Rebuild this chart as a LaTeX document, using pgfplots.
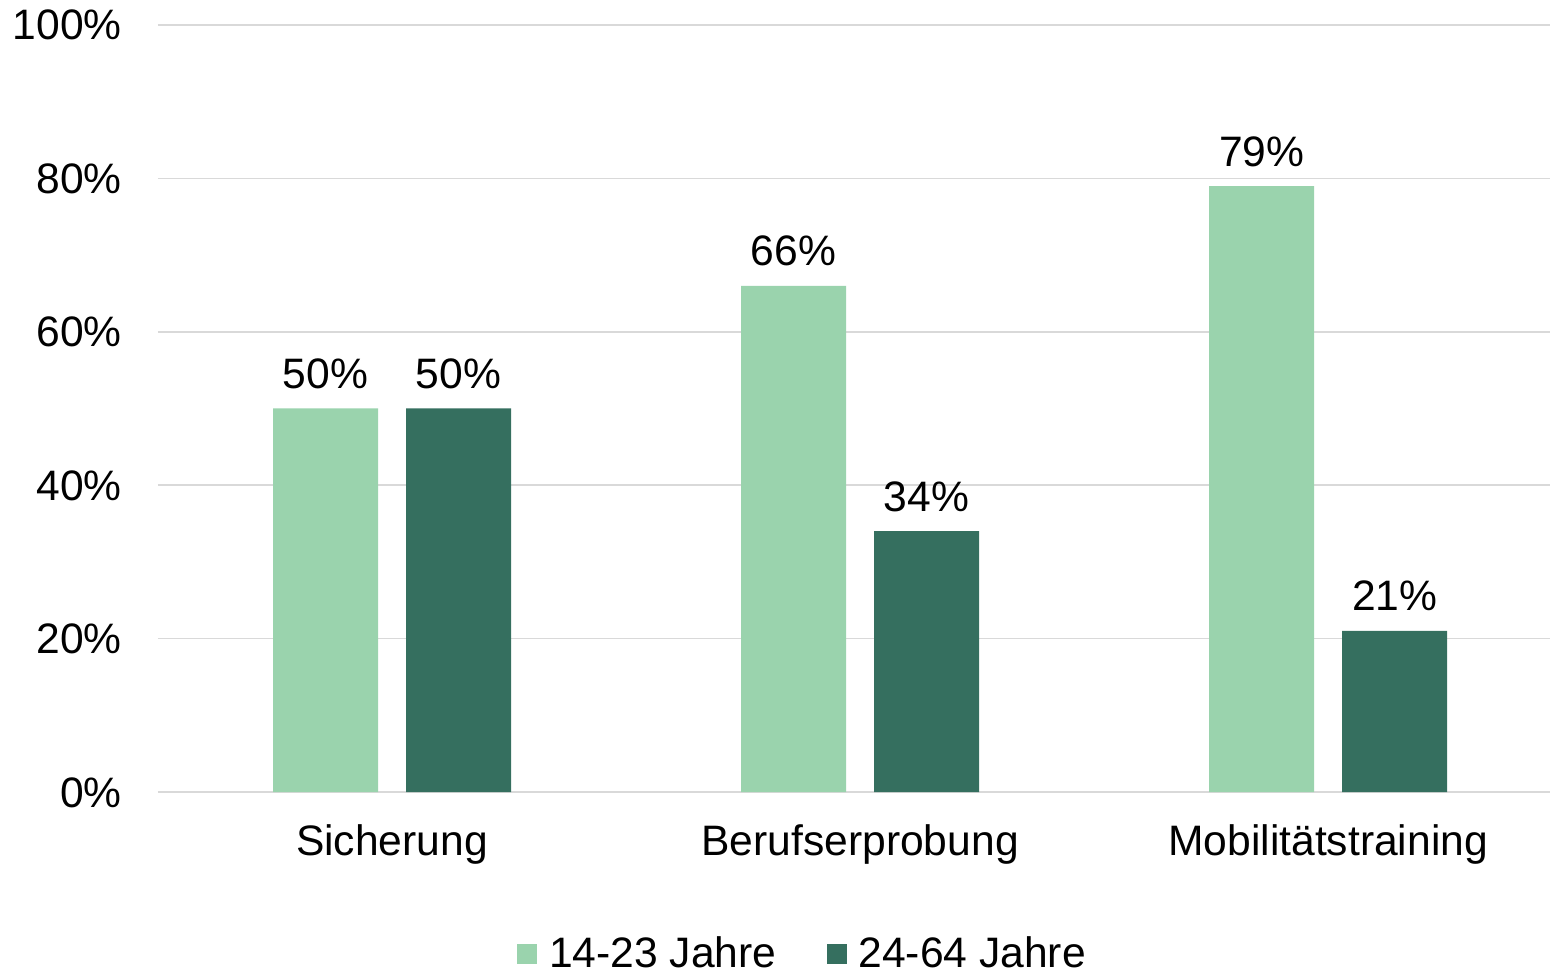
\documentclass[border=0pt]{standalone}
\usepackage{pgfplots}
\pgfplotsset{compat=1.18}
\usepackage{fontspec}
\setmainfont{Liberation Sans}
\definecolor{jung}{HTML}{9AD3AD}
\definecolor{alt}{HTML}{356F5F}
\definecolor{gitter}{HTML}{D9D9D9}

\begin{document}
\begin{tikzpicture}
\begin{axis}[
  at={(0,0)}, anchor=south west,
  scale only axis, width=696pt, height=383.5pt,
  ybar, bar width=52.5pt,
  xmin=-0.5, xmax=2.474, ymin=0, ymax=100,
  xtick={0,1,2},
  xticklabels={Sicherung, Berufserprobung, Mobilitätstraining},
  ytick={0,20,40,60,80,100},
  yticklabel={\pgfmathprintnumber{\tick}\%},
  /pgf/number format/assume math mode=true,
  font=\fontsize{21.3}{25}\selectfont,
  axis line style={draw=none},
  major tick length=0pt,
  ymajorgrids, grid style={gitter, line width=0.75pt},
  yticklabel style={anchor=base east, inner sep=0pt, xshift=-18pt, yshift=-7.5pt},
  xticklabel style={anchor=base, inner sep=0pt, yshift=-31.5pt},
  nodes near coords={\pgfmathprintnumber{\pgfplotspointmeta}\%},
  nodes near coords style={anchor=base, inner sep=0pt, yshift=10pt, black},
  legend columns=2,
  legend style={draw=none, fill=none, inner sep=0pt,
    at={(0.4623,-0.2112)}, anchor=center,
    nodes={inner sep=0pt, anchor=base west},
    /tikz/every odd column/.append style={column sep=6pt},
    /tikz/every even column/.append style={column sep=25pt}},
  legend image code/.code={\fill[#1] (0pt,2pt) rectangle (10pt,12pt);},
]
\addplot[fill=jung, draw=none, bar shift=-33.25pt] coordinates {(0,50) (1,66) (2,79)};
\addplot[fill=alt, draw=none, bar shift=33.25pt] coordinates {(0,50) (1,34) (2,21)};
\legend{14-23 Jahre, 24-64 Jahre}
\end{axis}
\pgfresetboundingbox
\path[use as bounding box] (-79pt,-90.5pt) rectangle (696pt,396pt);
\end{tikzpicture}
\end{document}
